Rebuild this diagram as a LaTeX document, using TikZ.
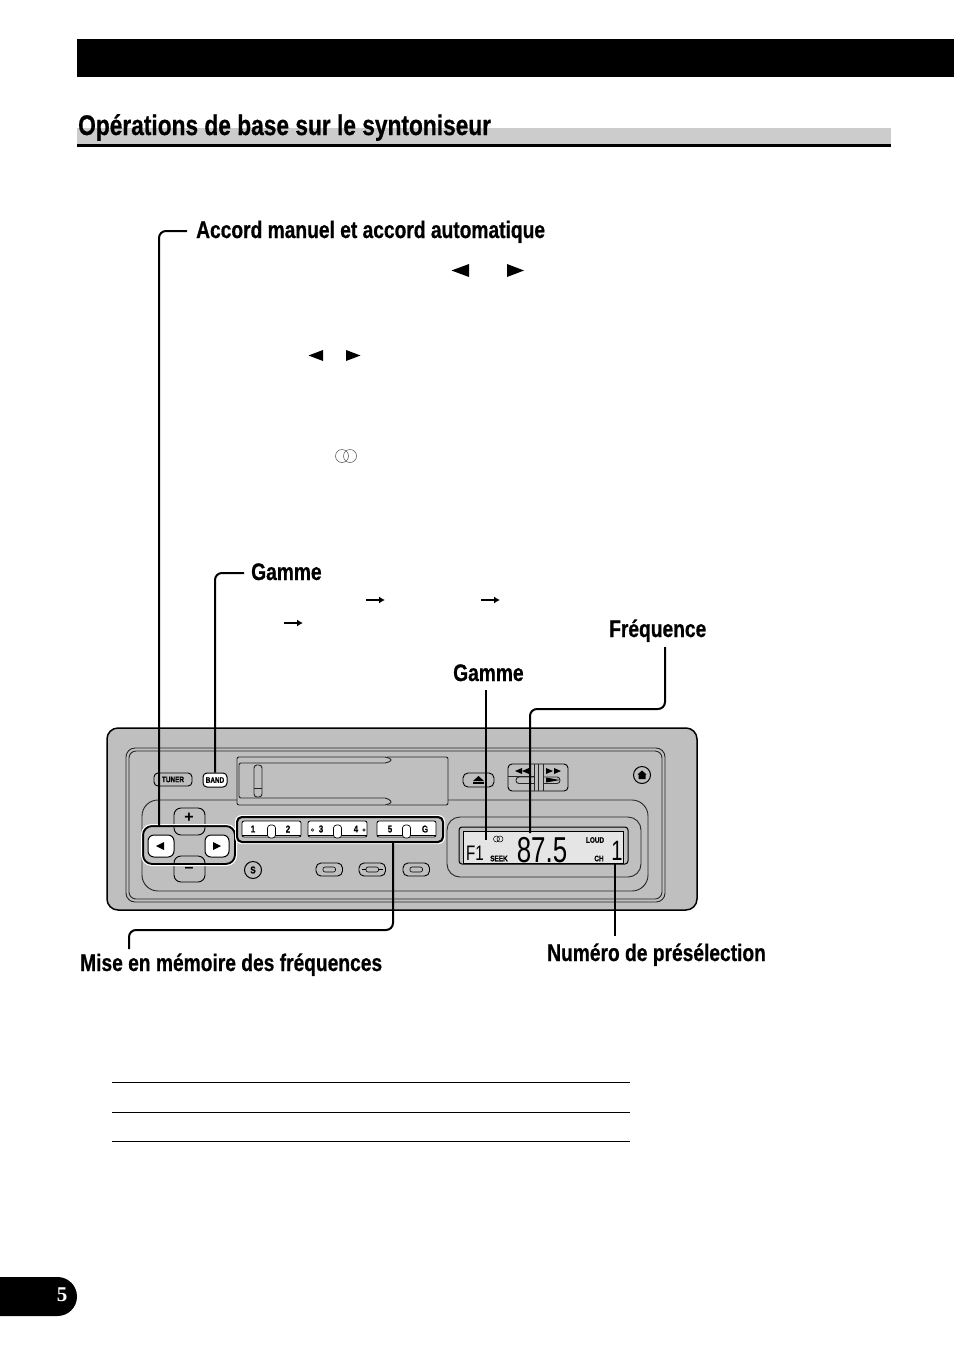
\documentclass[tikz,border=0pt]{standalone}
\usepackage{fontspec}
\setmainfont{Liberation Sans}
\newfontfamily\cnfont[FakeStretch=0.80,BoldFeatures={FakeBold=0.6}]{Liberation Sans}
\newfontfamily\lcdfont[FakeStretch=0.72]{Liberation Sans}
\newfontfamily\romfont{Liberation Serif}
\usetikzlibrary{positioning,calc,arrows.meta}
\definecolor{panelgray}{gray}{0.75}
\definecolor{bargray}{gray}{0.80}
\definecolor{lcdgray}{gray}{0.90}
\tikzset{
  heading/.style={anchor=base west,inner sep=0pt,font=\cnfont\bfseries\fontsize{28.4}{28.4}\selectfont},
  lbl/.style={anchor=base west,inner sep=0pt,font=\cnfont\bfseries\fontsize{24}{24}\selectfont},
  leader/.style={draw=black,line width=2pt,rounded corners=7pt},
  btn/.style={draw=black,line width=0.9pt,rounded corners=4pt,fill=panelgray},
  wbtn/.style={draw=black,line width=1pt,rounded corners=4pt,fill=white},
  edge/.style={draw=black!85,line width=0.9pt},
  tiny/.style={inner sep=0pt,font=\cnfont\bfseries\fontsize{8}{8}\selectfont},
  presetlbl/.style={inner sep=0pt,font=\cnfont\bfseries\fontsize{10}{10}\selectfont},
  seg/.style={inner sep=0pt,font=\lcdfont\fontsize{36}{36}\selectfont},
}
\begin{document}
\begin{tikzpicture}[x=1pt,y=-1pt]
  \useasboundingbox (0,0) rectangle (954,1355);
  %page furniture
  \fill[black] (77,39) rectangle (954,77);
  \fill[bargray] (77,128) rectangle (891,144);
  \fill[black] (77,143.5) rectangle (891,146.5);
  \node[heading] (title) at (78,135) {Opérations de base sur le syntoniseur};
  \fill[black,rounded corners=19.5pt] (-40,1277) rectangle (77,1316);
  \node[text=white,inner sep=0pt,font=\romfont\bfseries\fontsize{21}{21}\selectfont] (page) at (62,1295) {5};

  %panel
  \draw[black,line width=1.5pt,fill=panelgray,rounded corners=11pt] (107,728) rectangle (697,910);
  \draw[edge,rounded corners=9pt] (126,748) rectangle (665,902);
  \draw[edge,rounded corners=7pt] (129,751) rectangle (662,899);
  \draw[edge,rounded corners=16pt] (237,800) -- (142,800) -- (142,891) -- (648,891) -- (648,800) -- (448,800);
  \draw[edge,rounded corners=2pt] (237,757) -- (387,757) -- (392,760) -- (387,763) -- (239,763) -- (239,798) -- (387,798) -- (392,802) -- (387,805) -- (237,805) -- cycle;
  \draw[edge,rounded corners=2pt] (387,757) -- (448,757) -- (448,805) -- (387,805);
  \draw[edge,rounded corners=3pt] (254,765) rectangle (262,797);
  \draw[edge] (254,788) -- (262,788);

  %left buttons
  \node[draw=black,line width=0.9pt,rounded corners=4pt,fill=panelgray,minimum width=38pt,minimum height=13pt,inner sep=0pt,font=\cnfont\bfseries\fontsize{8}{8}\selectfont] (tuner) at (173,779.5) {TUNER};
  \node[draw=black,line width=1pt,rounded corners=4pt,fill=white,minimum width=24pt,minimum height=14pt,inner sep=0pt,font=\cnfont\bfseries\fontsize{8}{8}\selectfont] (band) at (215,780) {BAND};
  \draw[btn,rounded corners=7pt] (174,808) rectangle (205,835);
  \draw[btn,rounded corners=7pt] (174,856) rectangle (205,882);
  \node[font=\bfseries\fontsize{16}{16}\selectfont,inner sep=0pt] (plus) at (189,818) {+};
  \node[font=\bfseries\fontsize{16}{16}\selectfont,inner sep=0pt] (minus) at (189,870) {\textendash};
  \node[draw=black,line width=2pt,rounded corners=9pt,minimum width=92pt,minimum height=38pt,inner sep=0pt] (arrows) at (189,845) {};
  \draw[white,line width=1pt,rounded corners=10pt] (141.5,824.5) rectangle (236.5,865.5);
  \draw[wbtn,rounded corners=6pt] (148,835) rectangle (174,857);
  \draw[wbtn,rounded corners=6pt] (205,835) rectangle (229,857);
  \fill[black] (156,846) -- (164,842) -- (164,850) -- cycle;
  \fill[black] (221,846) -- (213,842) -- (213,850) -- cycle;
  \node[draw=black,line width=1pt,circle,minimum size=17pt,inner sep=0pt,font=\cnfont\bfseries\fontsize{10}{10}\selectfont] (sbtn) at (253,870) {S};

  %presets
  \draw[draw=white,line width=1pt,fill=panelgray,rounded corners=6pt] (235.5,815.5) rectangle (444.5,843.5);
  \node[draw=black,line width=2pt,rounded corners=5pt,minimum width=206pt,minimum height=25pt,inner sep=0pt] (presets) at (340,829.5) {};
  \foreach \px/\nm in {242/one,308/two,377/three}{
    \draw[fill=white,draw=black,line width=0.8pt,rounded corners=2pt] (\px,821) rectangle ++(59,16);
    \draw[black,line width=0.9pt] (\px,835) -- ++(59,0);
    \draw[fill=white,draw=black,line width=0.7pt,rounded corners=3pt] ($(\px,825)+(25.5,0)$) rectangle ($(\px,838)+(33.5,0)$);
  }
  \node[presetlbl] (p1) at (253,829) {1};
  \node[presetlbl] (p2) at (288,829) {2};
  \node[presetlbl] (p3) at (321,829) {3};
  \node[presetlbl] (p4) at (356,829) {4};
  \node[presetlbl] (p5) at (390,829) {5};
  \node[presetlbl] (p6) at (425,829) {G};
  \draw[line width=0.6pt] (312.5,830) circle (1.3pt);
  \draw[line width=0.6pt] (364,830) circle (1.3pt);

  %small buttons under the presets
  \foreach \px in {316,359,403}{
    \draw[btn,rounded corners=5pt] (\px,863) rectangle ++(26.5,13);
    \draw[draw=black,line width=0.6pt,rounded corners=2pt] ($(\px,867)+(7,0)$) rectangle ($(\px,872)+(19.5,0)$);
  }
  \draw[black,line width=0.6pt] (362,869.5) -- (366,869.5) (378.5,869.5) -- (382.5,869.5);

  %eject, tape, home
  \draw[btn,rounded corners=5pt] (463,773) rectangle (494,787);
  \fill[black] (478.5,776) -- (484,781) -- (473,781) -- cycle;
  \fill[black] (473,782) rectangle (484,784);
  \draw[btn,rounded corners=4pt] (508,764) rectangle (568,791);
  \draw[edge] (508,776.5) -- (534,776.5);
  \draw[edge,rounded corners=3pt] (516,777) rectangle (560,783.5);
  \fill[panelgray] (534,765) rectangle (543,790);
  \draw[edge] (534,764) -- (534,791) (538.5,764) -- (538.5,791) (543,764) -- (543,791);
  \fill[black] (515,771) -- (522,768) -- (522,774) -- cycle;
  \fill[black] (522,771) -- (529,768) -- (529,774) -- cycle;
  \fill[black] (553,771) -- (546,768) -- (546,774) -- cycle;
  \fill[black] (561,771) -- (554,768) -- (554,774) -- cycle;
  \fill[black] (560,780) -- (546,777.5) -- (546,782.5) -- cycle;
  \node[draw=black,line width=1pt,circle,minimum size=17pt,inner sep=0pt] (home) at (642,775) {};
  \fill[black] (642,770.5) -- (646.5,774.5) -- (645.5,774.5) -- (645.5,779) -- (638.5,779) -- (638.5,774.5) -- (637.5,774.5) -- cycle;

  %display
  \draw[edge,rounded corners=13pt] (447,817) rectangle (641,877);
  \draw[draw=black,line width=1pt,rounded corners=3pt] (459,827) rectangle (628,864);
  \draw[fill=lcdgray,draw=black,line width=0.8pt] (463,831) rectangle (623,863);
  \node[inner sep=0pt,anchor=base west,font=\lcdfont\fontsize{21}{21}\selectfont] (band1) at (466,860) {F1};
  \node[tiny] (seek) at (499,858.5) {SEEK};
  \draw[line width=0.5pt] (496.5,839) circle (3pt) (500,839) circle (3pt);
  \node[seg,anchor=base] (freq) at (542,862) {87.5};
  \node[tiny] (loud) at (595,840) {LOUD};
  \node[tiny] (chan) at (599,858.5) {CH};
  \node[seg,anchor=base,font=\lcdfont\fontsize{28}{28}\selectfont] (preset) at (617,860) {1};

  %labels
  \node[lbl] (lmanual) at (196,238) {Accord manuel et accord automatique};
  \node[lbl] (lband) at (251,580) {Gamme};
  \node[lbl] (lfreq) at (609,637) {Fréquence};
  \node[lbl] (lband2) at (453,681) {Gamme};
  \node[lbl] (lmem) at (80,971) {Mise en mémoire des fréquences};
  \node[lbl] (lnum) at (547,961) {Numéro de présélection};

  %leaders
  \coordinate (a1) at (187,231);
  \coordinate (a2) at (159,826);
  \coordinate (b1) at (244,573);
  \coordinate (c1) at (665,647);
  \coordinate (c2) at (530,833);
  \coordinate (d1) at (486,690);
  \coordinate (d2) at (486,840);
  \coordinate (e1) at (129,949);
  \coordinate (f1) at (615,936);
  \draw[leader] (a1) -| (a2);
  \draw[leader] (b1) -| (band.north);
  \draw[leader] (c1) |- (530,709) -- (c2);
  \draw[leader,rounded corners=0pt] (d1) -- (d2);
  \draw[leader] (393,842) |- (e1 |- 930,930) -- (e1);
  \draw[leader,line width=1.6pt,rounded corners=0pt] (615,864) -- (f1);

  %symbols of the text
  \fill[black] (451.5,270.5) -- (469,264) -- (469,277) -- cycle;
  \fill[black] (524,270.5) -- (507,264) -- (507,277) -- cycle;
  \fill[black] (308.5,355.5) -- (323,350) -- (323,361) -- cycle;
  \fill[black] (360.5,355.5) -- (346,350) -- (346,361) -- cycle;
  \draw[black!70,line width=0.5pt] (342,456) circle (6.5pt) (350,456) circle (6.5pt);
  \foreach \ax/\ay in {366/600,481/600,284/623}{
    \draw[black,line width=1.6pt,-{Latex[length=6pt,width=7pt]}] (\ax,\ay) -- ++(19,0);
  }

  %rules
  \foreach \ry in {1082.5,1112.5,1141.5}{
    \draw[black,line width=1pt] (112,\ry) -- (630,\ry);
  }
\end{tikzpicture}
\end{document}
